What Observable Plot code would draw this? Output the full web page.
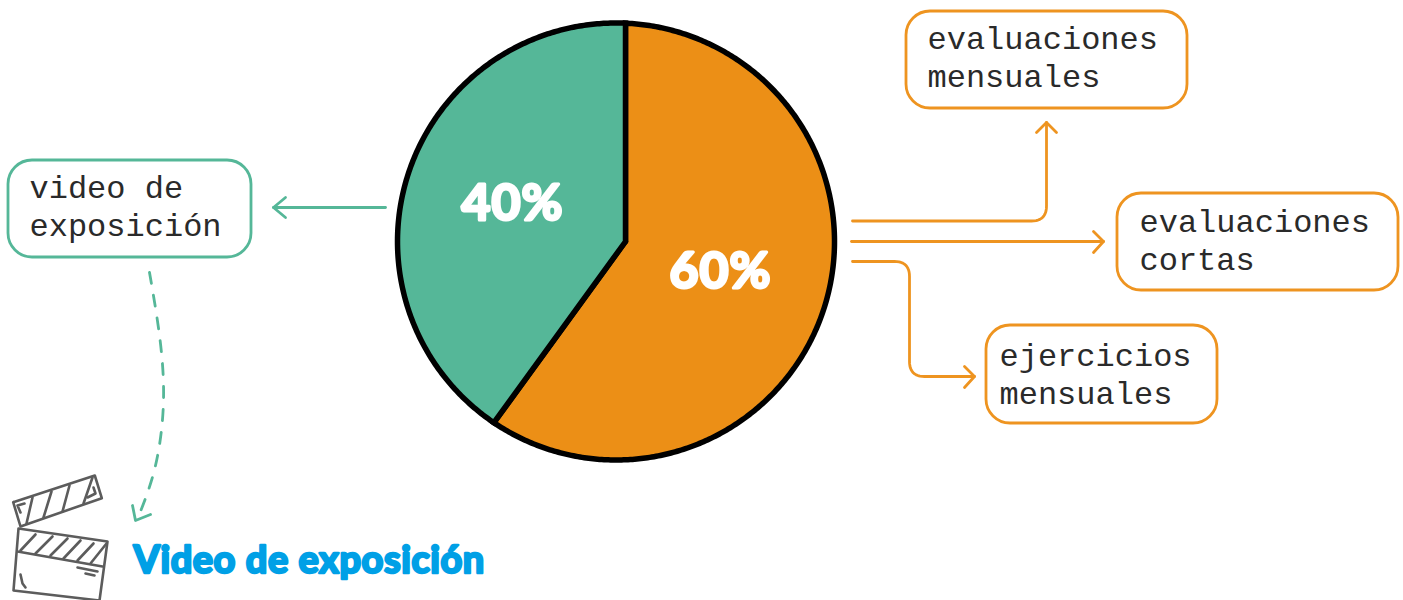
<!DOCTYPE html>
<html>
<head>
<meta charset="utf-8">
<style>html,body{margin:0;padding:0;background:#fff;overflow:hidden}svg{display:block}
.wide text{letter-spacing:.55px}.wide2 text{letter-spacing:1px}.mono text{letter-spacing:0}</style>
<script src="https://cdn.jsdelivr.net/npm/d3@7"></script>
<script src="https://cdn.jsdelivr.net/npm/@observablehq/plot@0.6"></script>
</head>
<body>
<script>
// Chart values
const sliceNames = ["evaluaciones", "video"];
const sliceValues = [60, 40];
const sliceLabels = ["60%", "40%"];
const boxTexts = ["evaluaciones\nmensuales", "evaluaciones\ncortas", "ejercicios\nmensuales", "video de\nexposición"];
const titleText = "Video de exposición";

// Layout (kept apart from the values)
const ORANGE = "#EC8F16", GREEN = "#55B798", LINE_ORANGE = "#EE9420", BLUE = "#00A0E6", GREY = "#5C5C5C";
const sliceColors = [ORANGE, GREEN];
const labelPos = [[720, 271], [512, 203]];
const apex = [625, 241], circleC = [615.5, 241], circleR = 218.5;
const boxes = [[906, 11, 1187, 108, LINE_ORANGE], [1117, 193, 1398, 290, LINE_ORANGE], [986, 325, 1217, 423, LINE_ORANGE], [8, 160, 251, 257, GREEN]];
const boxTextPos = [[927, 55.5], [1139, 238], [999, 372.5], [29, 204.5]];

// Slices from the values: angles from d3.pie, swept from the apex to the rim
const arcs = d3.pie().sort(null).startAngle(0).endAngle(2 * Math.PI)(sliceValues);
function rim(theta) {
  const ux = Math.sin(theta), uy = -Math.cos(theta);
  const ox = apex[0] - circleC[0], oy = apex[1] - circleC[1];
  const b = ox * ux + oy * uy, c = ox * ox + oy * oy - circleR * circleR;
  const t = -b + Math.sqrt(b * b - c);
  return [apex[0] + t * ux, apex[1] + t * uy];
}
const slicePts = arcs.map((a) => {
  const n = Math.ceil((a.endAngle - a.startAngle) / 0.01);
  return [apex, ...d3.range(n + 1).map((i) => rim(a.startAngle + (a.endAngle - a.startAngle) * i / n)), apex];
});

// Polyline with rounded corners
function rounded(pts, r) {
  const out = [pts[0]];
  for (let i = 1; i < pts.length - 1; i++) {
    const [p, q, s] = [pts[i - 1], pts[i], pts[i + 1]];
    const d1 = Math.hypot(p[0] - q[0], p[1] - q[1]), d2 = Math.hypot(s[0] - q[0], s[1] - q[1]);
    const a = [q[0] + (p[0] - q[0]) * r / d1, q[1] + (p[1] - q[1]) * r / d1];
    const b = [q[0] + (s[0] - q[0]) * r / d2, q[1] + (s[1] - q[1]) * r / d2];
    for (let k = 0; k <= 12; k++) {
      const t = k / 12, u = 1 - t;
      out.push([u * u * a[0] + 2 * u * t * q[0] + t * t * b[0], u * u * a[1] + 2 * u * t * q[1] + t * t * b[1]]);
    }
  }
  out.push(pts[pts.length - 1]);
  return out;
}

const orangeArrows = [
  rounded([[852, 220.5], [1046, 220.5], [1046, 122]], 15),
  [[1036, 132], [1046, 122], [1056, 132]],
  [[851, 241], [1103, 241]],
  [[1093, 231], [1103, 241], [1093, 252]],
  rounded([[852, 261], [909, 261], [909, 376], [974, 376]], 15),
  [[964, 366], [974, 376], [964, 387]]
];
const greenArrows = [
  [[385, 207], [273, 207]],
  [[285, 197], [273, 207], [285, 217]],
  [[132, 505], [135, 520], [150, 514]]
];
const dashedPath = [[149, 272], [159, 335], [163, 400], [155, 465], [138, 516]];

const clapper = [
  [[12.7, 501.7], [94.3, 475], [101.3, 497.7], [20, 526], [12.7, 501.7]],
  [[32, 497], [26, 523]], [[51, 491], [43, 517]], [[69, 485], [62, 511]], [[92, 477], [83, 503]],
  [[20, 512], [17, 505], [24, 503]], [[87, 497], [95, 493], [93, 487]],
  [[18, 528], [107, 541], [99, 600], [13, 590], [18, 528]],
  [[17, 551], [102, 566]],
  [[20, 550], [35, 534]], [[35, 553], [52, 536]], [[50, 555], [67, 538]], [[63, 558], [80, 540]], [[77, 560], [93, 543]], [[90, 563], [106, 543]],
  [[77, 567], [97, 571]], [[85, 573], [94, 575]],
  [[20, 574], [22, 583], [25, 587]]
];

const polyline = (pts, o) => Plot.line(pts, {x: (d) => d[0], y: (d) => d[1], ...o});

const chart = Plot.plot({
  width: 1403, height: 600,
  margin: 0,
  style: {background: "#fff"},
  x: {domain: [0, 1403], range: [0, 1403], axis: null},
  y: {domain: [0, 600], range: [0, 600], axis: null},
  marks: [
    ...slicePts.map((pts, i) => polyline(pts, {fill: sliceColors[i], stroke: "#000", strokeWidth: 5.5, strokeLinejoin: "miter", strokeMiterlimit: 10})),
    Plot.text(sliceLabels, {
      x: (d, i) => labelPos[i][0], y: (d, i) => labelPos[i][1], text: (d) => d,
      fill: "#fff", stroke: "#fff", strokeWidth: 3, strokeLinejoin: "round",
      fontFamily: "Lato", fontWeight: 700, fontSize: 50, className: "wide2"
    }),
    Plot.rect(boxes, {
      x1: (d) => d[0], y1: (d) => d[1], x2: (d) => d[2], y2: (d) => d[3],
      stroke: (d) => d[4], fill: "none", strokeWidth: 2.8, rx: 24
    }),
    Plot.text(boxTexts, {
      x: (d, i) => boxTextPos[i][0], y: (d, i) => boxTextPos[i][1], text: (d) => d,
      textAnchor: "start", lineAnchor: "middle", lineHeight: 1.19,
      fill: "#2a2a2a", fontFamily: "Liberation Mono", fontSize: 32, className: "mono"
    }),
    ...orangeArrows.map((p) => polyline(p, {stroke: LINE_ORANGE, strokeWidth: 2.8, strokeLinejoin: "round", strokeLinecap: "round"})),
    ...greenArrows.map((p) => polyline(p, {stroke: GREEN, strokeWidth: 2.8, strokeLinejoin: "round", strokeLinecap: "round"})),
    polyline(dashedPath, {stroke: GREEN, strokeWidth: 2.8, strokeDasharray: "11 12", curve: "natural"}),
    ...clapper.map((p) => polyline(p, {stroke: GREY, strokeWidth: 2.6, strokeLinejoin: "round", strokeLinecap: "round"})),
    Plot.text([titleText], {
      x: () => 133, y: () => 560, text: (d) => d, textAnchor: "start",
      fill: BLUE, stroke: BLUE, strokeWidth: 2.5, strokeLinejoin: "round",
      fontFamily: "Lato", fontWeight: 700, fontSize: 38, className: "wide"
    })
  ]
});
document.body.appendChild(chart);
</script>
</body>
</html>
